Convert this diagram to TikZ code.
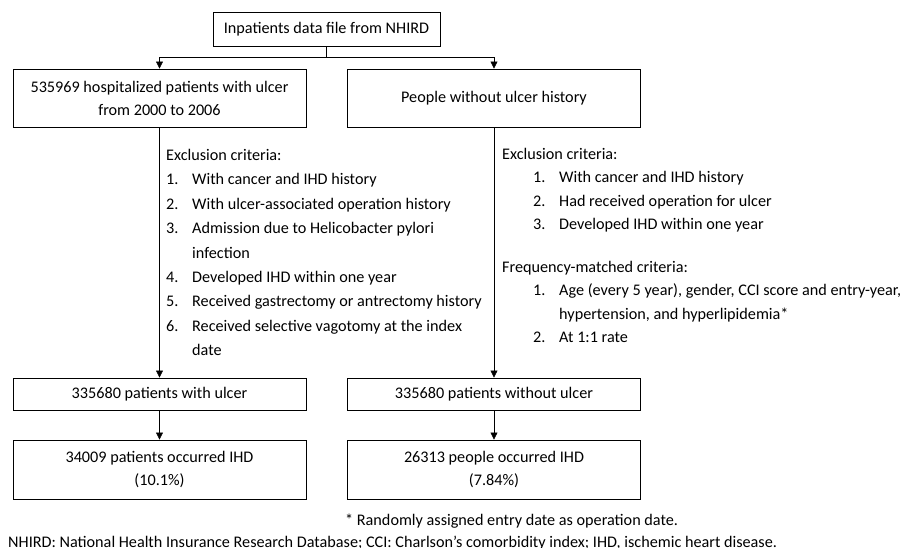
\documentclass[tikz,border=0pt]{standalone}
\usepackage{fontspec}
\setmainfont{Carlito}
\usetikzlibrary{arrows.meta}

\begin{document}
\begin{tikzpicture}[x=1pt,y=-1pt,
  every node/.style={font=\fontsize{16.2}{23}\selectfont},
  box/.style={draw,line width=0.9pt,minimum width=293pt,align=center,inner sep=0pt},
  list/.style={anchor=north west,align=left,inner sep=0pt},
  arr/.style={-{Triangle[length=7pt,width=7pt]},line width=0.6pt}]
\useasboundingbox (0,0) rectangle (901,548);
% boxes
\node[box,minimum width=227pt,minimum height=34pt] (nhird) at (326.5,29) {Inpatients data file from NHIRD};
\node[box,minimum height=58pt] (ulcer) at (159.5,98) {535969 hospitalized patients with ulcer\\from 2000 to 2006};
\node[box,minimum height=58pt] (noulcer) at (494,98) {People without ulcer history};
\node[box,minimum height=32pt] (pu) at (159.5,394) {335680 patients with ulcer};
\node[box,minimum height=32pt] (pnu) at (494,394) {335680 patients without ulcer};
\node[box,minimum height=59pt] (ihd) at (159.5,469.5) {34009 patients occurred IHD\\(10.1\%)};
\node[box,minimum height=59pt] (nihd) at (494,469.5) {26313 people occurred IHD\\(7.84\%)};
% criteria
\node[list,font=\fontsize{16.2}{24.4}\selectfont] (excl) at (166,149) {Exclusion criteria:\\
  \makebox[26pt][l]{1.}With cancer and IHD history\\
  \makebox[26pt][l]{2.}With ulcer-associated operation history\\
  \makebox[26pt][l]{3.}Admission due to Helicobacter pylori\\
  \hspace*{26pt}infection\\
  \makebox[26pt][l]{4.}Developed IHD within one year\\
  \makebox[26pt][l]{5.}Received gastrectomy or antrectomy history\\
  \makebox[26pt][l]{6.}Received selective vagotomy at the index\\
  \hspace*{26pt}date};
\node[list,font=\fontsize{16.2}{23.3}\selectfont] (exclr) at (502,148) {Exclusion criteria:\\
  \hspace*{31pt}\makebox[26pt][l]{1.}With cancer and IHD history\\
  \hspace*{31pt}\makebox[26pt][l]{2.}Had received operation for ulcer\\
  \hspace*{31pt}\makebox[26pt][l]{3.}Developed IHD within one year};
\node[list,font=\fontsize{16.2}{23.3}\selectfont] (match) at (502,261) {Frequency-matched criteria:\\
  \hspace*{31pt}\makebox[26pt][l]{1.}Age (every 5 year), gender, CCI score and entry-year,\\
  \hspace*{57pt}hypertension, and hyperlipidemia*\\
  \hspace*{31pt}\makebox[26pt][l]{2.}At 1:1 rate};
% notes
\node[anchor=west,inner sep=0pt] (note) at (345,521) {* Randomly assigned entry date as operation date.};
\node[anchor=west,inner sep=0pt] (abbr) at (8,543) {NHIRD: National Health Insurance Research Database; CCI: Charlson's comorbidity index; IHD, ischemic heart disease.};
% arrows
\coordinate (split) at (326.5,57);
\draw[line width=0.6pt] (nhird.south) -- (split);
\draw[arr] (split) -| (ulcer.north);
\draw[arr] (split) -| (noulcer.north);
\draw[arr] (ulcer.south) -- (pu.north);
\draw[arr] (noulcer.south) -- (pnu.north);
\draw[arr] (pu.south) -- (ihd.north);
\draw[arr] (pnu.south) -- (nihd.north);
\end{tikzpicture}
\end{document}
